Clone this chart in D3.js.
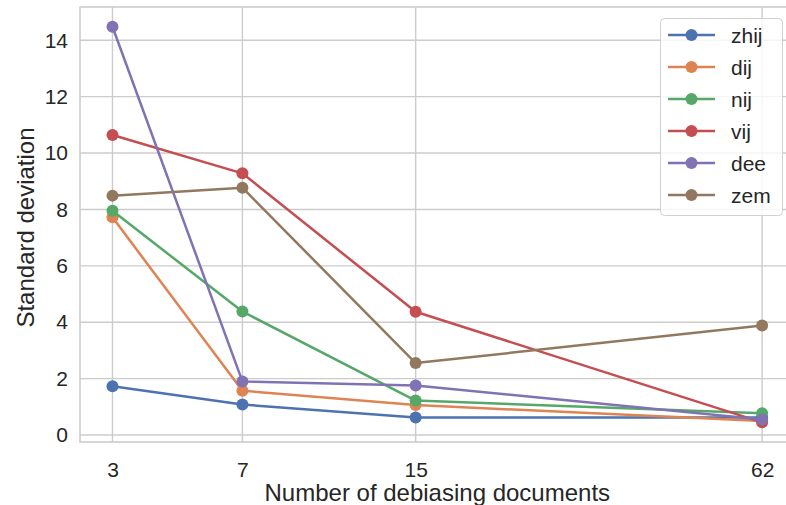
<!DOCTYPE html>
<html>
<head>
<meta charset="utf-8">
<script src="https://cdn.jsdelivr.net/npm/d3@7"></script>
<style>
  html, body { margin: 0; padding: 0; background: #fff; }
  svg { display: block; }
  text { font-family: "Liberation Sans", Arial, Helvetica, sans-serif; fill: #262626; }
</style>
</head>
<body>
<svg id="chart" width="786" height="505"></svg>
<script>
// ---- data ----
const xPositions = [0, 3, 7, 15];            // plotted x values
const xTickLabels = ["3", "7", "15", "62"];  // labels shown at those positions
const yTicks = [0, 2, 4, 6, 8, 10, 12, 14];
const seriesNames = ["zhij", "dij", "nij", "vij", "dee", "zem"];
const zhij = [1.73, 1.08, 0.62, 0.62];
const dij  = [7.72, 1.57, 1.06, 0.50];
const nij  = [7.95, 4.38, 1.22, 0.77];
const vij  = [10.64, 9.28, 4.37, 0.45];
const dee  = [14.48, 1.90, 1.76, 0.55];
const zem  = [8.49, 8.77, 2.55, 3.88];
const seriesValues = [zhij, dij, nij, vij, dee, zem];
const colors = ["#4c72b0", "#dd8452", "#55a868", "#c44e52", "#8172b3", "#937860"];
const xLabel = "Number of debiasing documents";
const yLabel = "Standard deviation";

// ---- layout ----
const svg = d3.select("#chart");
const pLeft = 80, pTop = 7, pBottom = 442, pRight = 794.6;

const x = d3.scaleLinear().domain([-0.75, 15.75]).range([pLeft, pRight]);
const y = d3.scaleLinear().domain([-0.248, 15.18]).range([pBottom, pTop]);

svg.append("defs").append("clipPath").attr("id", "clip")
  .append("rect").attr("x", pLeft).attr("y", pTop).attr("width", pRight - pLeft).attr("height", pBottom - pTop);

// grid
const grid = svg.append("g");
grid.selectAll("line.gx").data(xPositions).join("line").attr("class", "gx")
  .attr("x1", d => x(d)).attr("x2", d => x(d))
  .attr("y1", pTop).attr("y2", pBottom)
  .attr("stroke", "#cccccc").attr("stroke-width", 1.4);
grid.selectAll("line.gy").data(yTicks).join("line").attr("class", "gy")
  .attr("y1", d => y(d)).attr("y2", d => y(d))
  .attr("x1", pLeft).attr("x2", pRight)
  .attr("stroke", "#cccccc").attr("stroke-width", 1.4);

// spines
svg.append("rect").attr("x", pLeft).attr("y", pTop)
  .attr("width", pRight - pLeft).attr("height", pBottom - pTop)
  .attr("fill", "none").attr("stroke", "#cccccc").attr("stroke-width", 1.6);

// axes (tick labels via d3 axes)
const xAxis = d3.axisBottom(x).tickValues(xPositions)
  .tickFormat((d, i) => xTickLabels[i]).tickSize(0).tickPadding(20);
const gx = svg.append("g").attr("transform", `translate(0,${pBottom})`).call(xAxis);
gx.select(".domain").remove();
gx.selectAll("text").style("font-size", "21px").attr("fill", "#262626")
  .style("font-family", '"Liberation Sans", Arial, sans-serif');

const yAxis = d3.axisLeft(y).tickValues(yTicks).tickSize(0).tickPadding(12);
const gy = svg.append("g").attr("transform", `translate(${pLeft},0)`).call(yAxis);
gy.select(".domain").remove();
gy.selectAll("text").style("font-size", "21px").attr("fill", "#262626")
  .style("font-family", '"Liberation Sans", Arial, sans-serif');

// axis labels
svg.append("text").attr("x", (pLeft + pRight) / 2).attr("y", 501)
  .attr("text-anchor", "middle").style("font-size", "24px").text(xLabel);
svg.append("text").attr("transform", `translate(34,${(pTop + pBottom) / 2 + 3}) rotate(-90)`)
  .attr("text-anchor", "middle").style("font-size", "24px").text(yLabel);

// series
const plot = svg.append("g").attr("clip-path", "url(#clip)");
const line = d3.line().x((d, i) => x(xPositions[i])).y(d => y(d));
seriesValues.forEach((vals, si) => {
  const g = plot.append("g");
  g.append("path").datum(vals).attr("d", line)
    .attr("fill", "none").attr("stroke", colors[si]).attr("stroke-width", 2.5)
    .attr("stroke-linejoin", "round");
  g.selectAll("circle").data(vals).join("circle")
    .attr("cx", (d, i) => x(xPositions[i])).attr("cy", d => y(d))
    .attr("r", 6).attr("fill", colors[si]);
});

// legend
const lg = svg.append("g");
lg.append("rect").attr("x", 660.5).attr("y", 18.5).attr("width", 122).attr("height", 197)
  .attr("rx", 4).attr("fill", "white").attr("fill-opacity", 0.8)
  .attr("stroke", "#d0d0d0").attr("stroke-width", 1);
seriesNames.forEach((name, i) => {
  const cy = 35 + i * 32;
  lg.append("line").attr("x1", 668).attr("x2", 715).attr("y1", cy).attr("y2", cy)
    .attr("stroke", colors[i]).attr("stroke-width", 2.5);
  lg.append("circle").attr("cx", 691.5).attr("cy", cy).attr("r", 6).attr("fill", colors[i]);
  lg.append("text").attr("x", 731).attr("y", cy + 7.5).style("font-size", "21px").text(name);
});
</script>
</body>
</html>
